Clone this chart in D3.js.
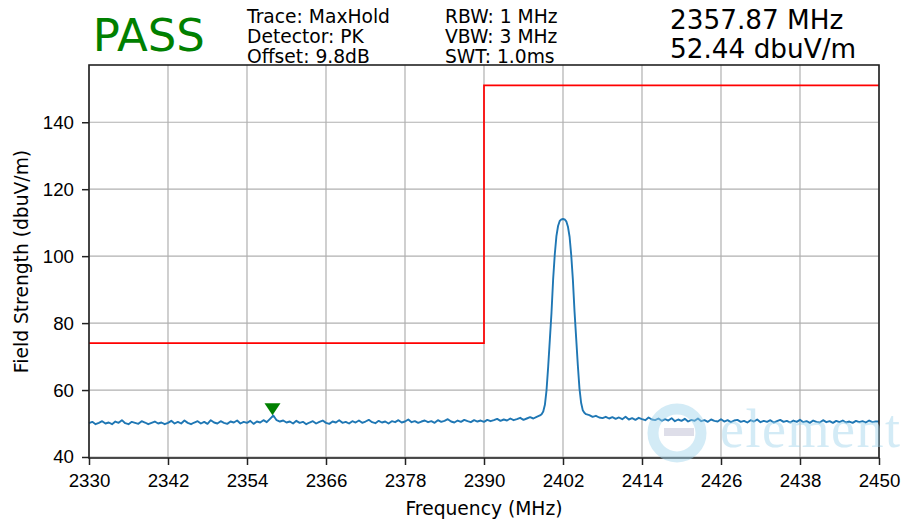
<!DOCTYPE html>
<html>
<head>
<meta charset="utf-8">
<script src="https://cdn.jsdelivr.net/npm/d3@7"></script>
<style>
  body { margin: 0; background: #fff; }
  svg { display: block; font-family: "DejaVu Sans", sans-serif; }
  .tick text { font-size: 18.7px; fill: #000; }
</style>
</head>
<body>
<script>
// sweep settings / header text
const headerLeft = ["Trace: MaxHold", "Detector: PK", "Offset: 9.8dB"];
const headerMid = ["RBW: 1 MHz", "VBW: 3 MHz", "SWT: 1.0ms"];
const verdict = "PASS";
const markerFreq = 2357.87;
const markerLevel = 52.44;

const xTicks = [2330, 2342, 2354, 2366, 2378, 2390, 2402, 2414, 2426, 2438, 2450];
const yTicks = [40, 60, 80, 100, 120, 140];

// limit line (MHz, dBuV/m)
const limitFreqs = [2330, 2390, 2390, 2450];
const limitLevels = [74, 74, 151, 151];

// trace below the carrier: 2330 .. 2398 MHz, 0.5 MHz steps
const lowStart = 2330, lowStep = 0.5;
const lowLevels = [
  50.1, 50.5, 49.8, 50.2, 50.7, 50.0, 50.3, 49.8, 50.6, 50.2, 51.0, 50.1, 49.8, 50.5, 50.2, 49.9, 50.7, 50.3, 49.8, 50.2,
  50.6, 50.0, 50.3, 49.8, 50.2, 50.8, 50.0, 50.5, 50.0, 50.9, 50.2, 49.8, 50.3, 50.7, 50.0, 50.5, 49.9, 51.0, 50.3, 50.0,
  50.7, 50.2, 49.9, 50.6, 50.3, 50.9, 50.0, 50.5, 50.2, 50.8, 49.9, 50.6, 50.3, 51.0, 50.4, 51.4, 52.4, 51.0, 50.6, 50.9,
  50.3, 50.6, 50.0, 50.8, 50.2, 50.5, 49.8, 50.3, 50.7, 50.0, 50.5, 50.9, 50.2, 49.9, 50.6, 50.3, 51.0, 50.2, 50.5, 50.0,
  50.7, 50.3, 50.9, 50.2, 50.6, 51.1, 50.4, 50.1, 50.8, 50.3, 50.6, 50.0, 50.7, 50.4, 51.0, 50.3, 50.6, 51.2, 50.4, 50.7,
  50.2, 50.6, 50.9, 50.4, 50.7, 50.2, 51.0, 50.5, 50.8, 51.3, 50.6, 50.3, 50.9, 50.5, 51.1, 50.7, 50.4, 51.0, 50.6, 50.9,
  50.5, 51.1, 50.7, 51.0, 51.4, 50.8, 51.2, 50.9, 51.5, 51.0, 51.3, 51.7, 51.1, 51.5, 51.9, 51.5, 52.0
];

// the carrier: 2398.5 .. 2405.5 MHz, 0.25 MHz steps
const peakStart = 2398.5, peakStep = 0.25;
const peakLevels = [
  52.4, 52.8, 53.6, 55.6, 60.0, 67.0, 75.0, 83.0, 93.0, 100.5, 106.0, 109.0, 110.5, 111.0,
  111.1,
  111.0, 110.4, 108.8, 105.8, 100.3, 93.0, 83.5, 75.5, 67.5, 60.5, 56.2, 54.0, 53.2, 52.8
];

// trace above the carrier: 2406 .. 2450 MHz, 0.5 MHz steps
const highStart = 2406, highStep = 0.5;
const highLevels = [
  52.5, 52.0, 52.3, 51.8, 51.6, 52.0, 51.5, 51.9, 51.4, 51.8, 51.3, 52.0, 51.2, 51.6, 51.1, 51.7, 51.3, 51.0, 51.8, 51.2,
  51.0, 51.5, 50.8, 51.3, 50.9, 51.6, 50.7, 51.2, 50.8, 51.4, 50.6, 51.1, 50.8, 51.5, 50.7, 51.0, 50.5, 51.2, 50.8, 50.6,
  51.3, 50.6, 51.0, 50.4, 50.9, 51.1, 50.5, 50.8, 50.3, 51.0, 50.6, 51.2, 50.4, 50.8, 50.5, 51.0, 50.3, 50.7, 51.1, 50.5,
  50.8, 50.3, 50.9, 50.5, 51.1, 50.4, 50.7, 50.2, 50.9, 50.5, 50.3, 51.0, 50.4, 50.7, 50.2, 50.8, 50.4, 50.9, 50.3, 50.6,
  50.2, 50.8, 50.4, 50.7, 50.3, 50.9, 50.4, 50.6, 50.6
];

const trace = [
  ...lowLevels.map((v, i) => ({ f: lowStart + i * lowStep, v: v })),
  ...peakLevels.map((v, i) => ({ f: peakStart + i * peakStep, v: v })),
  ...highLevels.map((v, i) => ({ f: highStart + i * highStep, v: v }))
];
const limit = limitFreqs.map((f, i) => ({ f: f, v: limitLevels[i] }));

const W = 905, H = 521;
const margin = { top: 65, right: 26, bottom: 63, left: 89 },
  width = W - margin.left - margin.right,
  height = H - margin.top - margin.bottom;

const root = d3.select("body").append("svg")
  .attr("width", W)
  .attr("height", H);

const svg = root.append("g")
  .attr("transform", "translate(" + margin.left + "," + margin.top + ")");

const xScale = d3.scaleLinear().domain([2330, 2450]).range([0, width]);
const yScale = d3.scaleLinear().domain([39.7, 157.1]).range([height, 0]);

// grid
svg.append("g")
  .selectAll("line.vg")
  .data(xTicks)
  .enter().append("line")
  .attr("x1", d => xScale(d)).attr("x2", d => xScale(d))
  .attr("y1", 0).attr("y2", height)
  .style("stroke", "#b0b0b0").style("stroke-width", 1.2);

svg.append("g")
  .selectAll("line.hg")
  .data(yTicks)
  .enter().append("line")
  .attr("x1", 0).attr("x2", width)
  .attr("y1", d => yScale(d)).attr("y2", d => yScale(d))
  .style("stroke", "#b0b0b0").style("stroke-width", 1.2);

const line = d3.line().x(d => xScale(d.f)).y(d => yScale(d.v));

// limit
svg.append("path")
  .datum(limit)
  .attr("d", line)
  .style("fill", "none")
  .style("stroke", "#ff0000")
  .style("stroke-width", 1.7);

// trace
svg.append("path")
  .datum(trace)
  .attr("d", line)
  .style("fill", "none")
  .style("stroke", "#1f77b4")
  .style("stroke-width", 1.9)
  .style("stroke-linejoin", "round");

// marker, tip sitting on the marked point
const mx = xScale(markerFreq), my = yScale(markerLevel);
svg.append("path")
  .attr("d", `M${mx - 8},${my - 12}L${mx + 8},${my - 12}L${mx},${my}Z`)
  .style("fill", "#008000");

// axes
const xAxis = svg.append("g")
  .attr("transform", "translate(0," + height + ")")
  .call(d3.axisBottom(xScale).tickValues(xTicks).tickSize(7).tickPadding(9).tickFormat(d3.format("d")));

const yAxis = svg.append("g")
  .call(d3.axisLeft(yScale).tickValues(yTicks).tickSize(7).tickPadding(8));

[xAxis, yAxis].forEach(a => {
  a.select(".domain").remove();
  a.selectAll(".tick line").style("stroke", "#222").style("stroke-width", 1.5);
});

// frame
svg.append("rect")
  .attr("width", width)
  .attr("height", height)
  .style("fill", "none")
  .style("stroke", "#222")
  .style("stroke-width", 1.6);

// labels
svg.append("text")
  .attr("x", width / 2)
  .attr("y", height + 57)
  .style("text-anchor", "middle")
  .style("font-size", "18.7px")
  .text("Frequency (MHz)");

svg.append("text")
  .attr("transform", "rotate(-90)")
  .attr("x", -height / 2)
  .attr("y", -61)
  .style("text-anchor", "middle")
  .style("font-size", "18.7px")
  .text("Field Strength (dbuV/m)");

// header
root.append("text")
  .attr("x", 92.7)
  .attr("y", 50.7)
  .style("font-size", "45px")
  .style("fill", "#008000")
  .text(verdict);

root.append("g")
  .selectAll("text")
  .data(headerLeft)
  .enter().append("text")
  .attr("x", 247)
  .attr("y", (d, i) => 22.7 + i * 20)
  .style("font-size", "18.7px")
  .text(d => d);

root.append("g")
  .selectAll("text")
  .data(headerMid)
  .enter().append("text")
  .attr("x", 445)
  .attr("y", (d, i) => 22.7 + i * 20)
  .style("font-size", "18.7px")
  .text(d => d);

root.append("text")
  .attr("x", 670)
  .attr("y", 29.3)
  .style("font-size", "26.3px")
  .text(markerFreq.toFixed(2) + " MHz");

root.append("text")
  .attr("x", 670)
  .attr("y", 57.7)
  .style("font-size", "26.3px")
  .text(markerLevel.toFixed(2) + " dbuV/m");

// watermark
const wm = root.append("g").style("opacity", 0.45);
wm.append("circle")
  .attr("cx", 677).attr("cy", 433).attr("r", 24)
  .style("fill", "none")
  .style("stroke", "#9fd4ec")
  .style("stroke-width", 11);
wm.append("rect")
  .attr("x", 664).attr("y", 428).attr("width", 30).attr("height", 8)
  .style("fill", "#b8b8d0");
wm.append("text")
  .attr("x", 720)
  .attr("y", 446.7)
  .style("font-family", "'Liberation Serif', serif")
  .style("font-size", "54px")
  .style("letter-spacing", "1.5px")
  .style("fill", "#9fd4ec")
  .text("element");
</script>
</body>
</html>
